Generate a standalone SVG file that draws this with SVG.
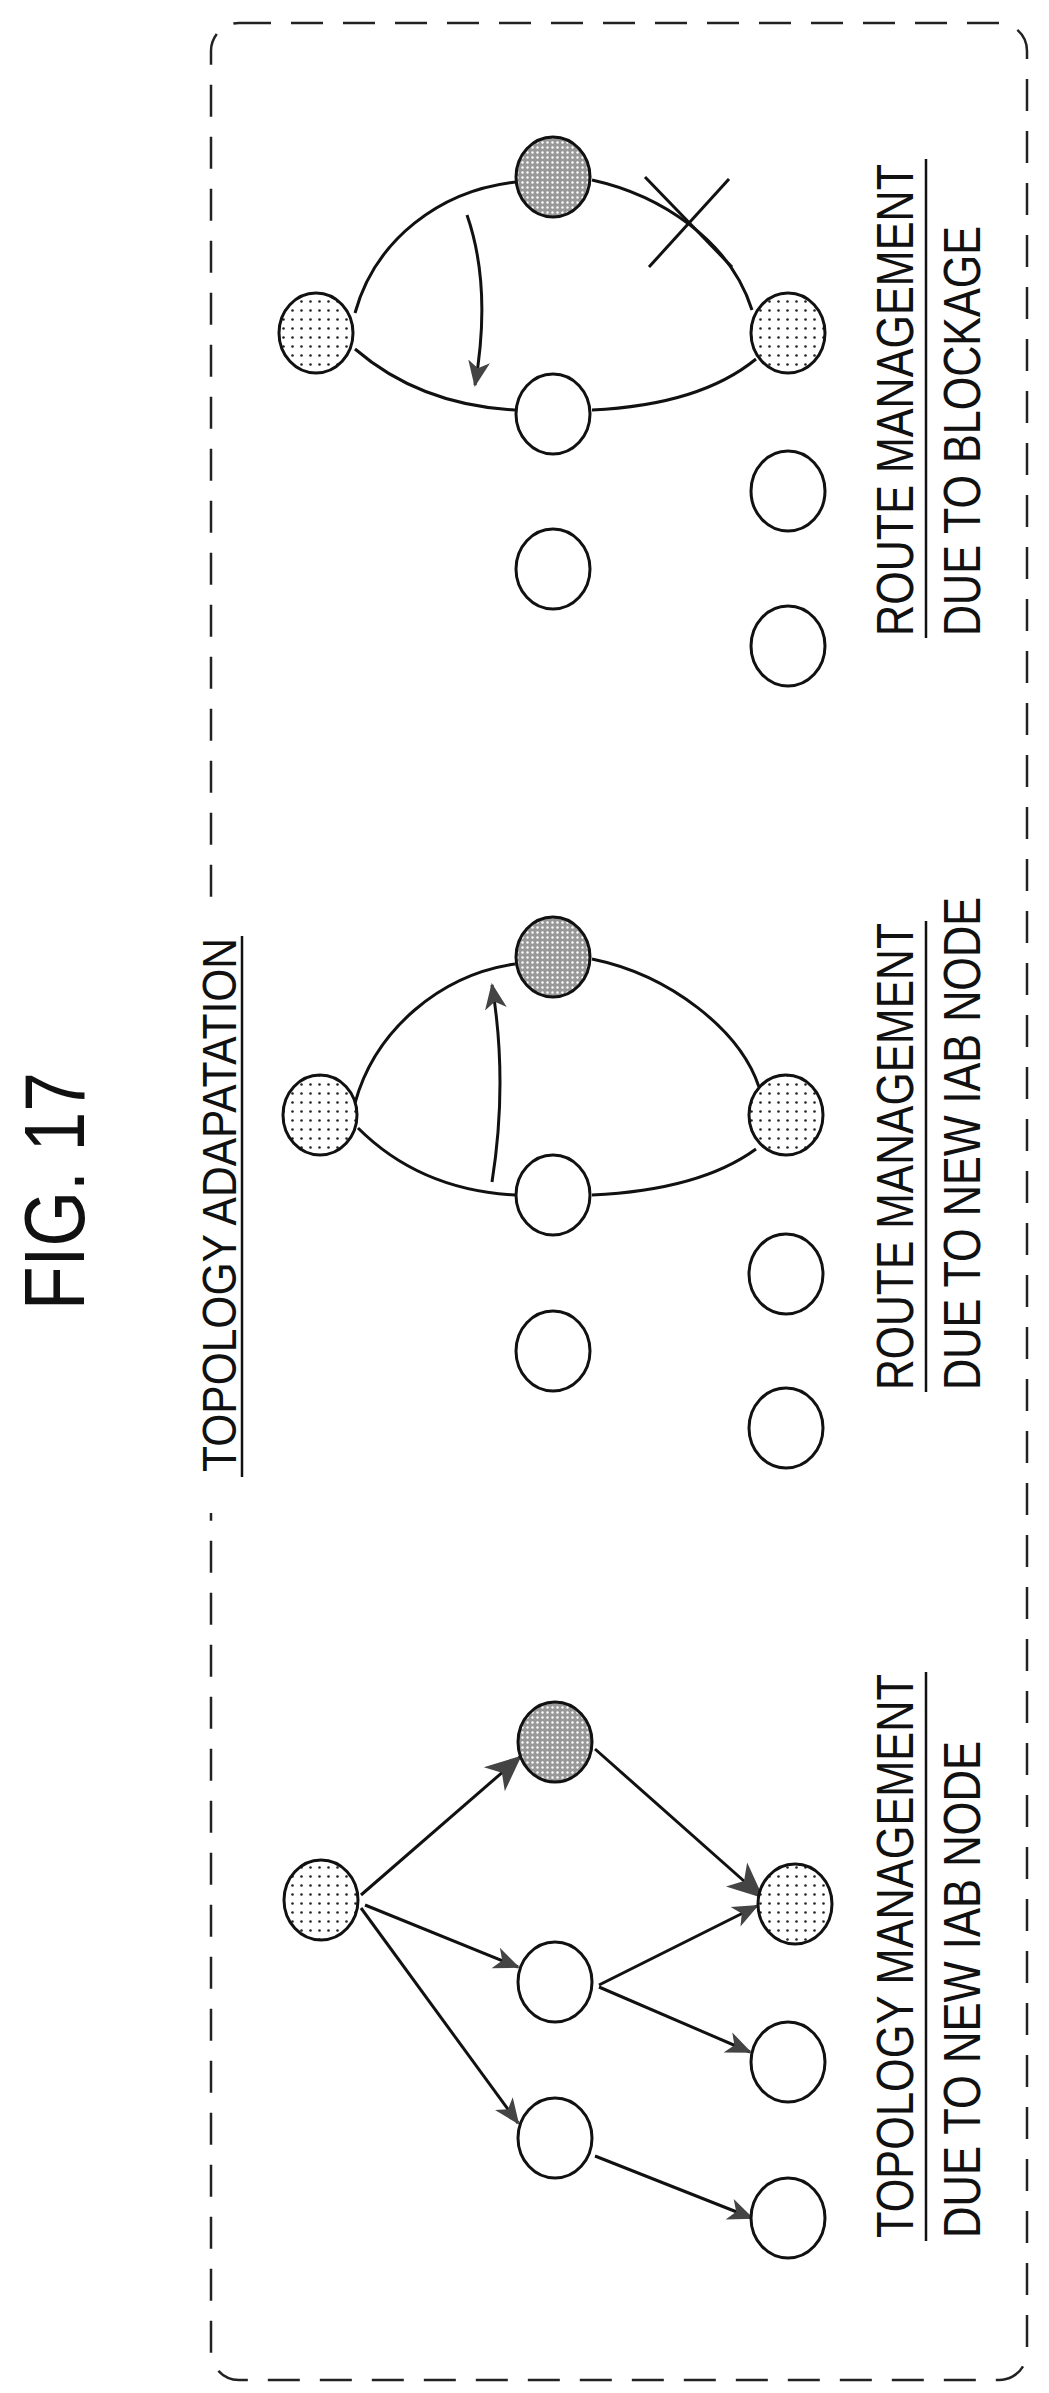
<svg xmlns="http://www.w3.org/2000/svg" width="1049" height="2393" viewBox="0 0 1049 2393">
<style>
.n{stroke:#111;stroke-width:3}
.w{fill:#fff}
.l{fill:url(#lt)}
.d{fill:url(#dk)}
.e{fill:none;stroke:#111;stroke-width:3}
.t{font-family:"Liberation Sans",Arial,sans-serif;fill:#111}
.u{stroke:#111;stroke-width:2.5}
</style>
<defs>
<pattern id="lt" width="9" height="9" patternUnits="userSpaceOnUse"><rect width="9" height="9" fill="#fff"/><circle cx="4.5" cy="4.5" r="1.3" fill="#222"/></pattern>
<pattern id="dk" width="5" height="5" patternUnits="userSpaceOnUse"><rect width="5" height="5" fill="#999"/><circle cx="2.5" cy="2.5" r="1.2" fill="#fff"/></pattern>
<marker id="ah" markerWidth="12" markerHeight="12" refX="10" refY="6" orient="auto" markerUnits="userSpaceOnUse" viewBox="0 0 12 12"><path d="M0,0 L12,6 L0,12 L4,6 Z" fill="#333"/></marker>
<marker id="ab" markerWidth="36" markerHeight="36" refX="34" refY="18" orient="auto" markerUnits="userSpaceOnUse" viewBox="0 0 36 36"><path d="M0,2 L36,18 L0,34 L10,18 Z" fill="#444"/></marker>
<marker id="am" markerWidth="26" markerHeight="26" refX="24" refY="13" orient="auto" markerUnits="userSpaceOnUse" viewBox="0 0 26 26"><path d="M0,2 L26,13 L0,24 L7,13 Z" fill="#444"/></marker>
</defs>
<rect x="211" y="23" width="816" height="2357" rx="28" fill="none" stroke="#222" stroke-width="2.5" stroke-dasharray="32 20"/>
<rect x="200" y="910" width="24" height="603" fill="#fff"/>
<text class="t" font-size="85" transform="translate(84,1310) rotate(-90)" textLength="238" lengthAdjust="spacingAndGlyphs">FIG. 17</text>
<text class="t" font-size="48" transform="translate(236,1472) rotate(-90)" textLength="534" lengthAdjust="spacingAndGlyphs">TOPOLOGY ADAPATATION</text>
<line class="u" x1="242" y1="1477" x2="242" y2="936"/>
<g id="connectors">
<!-- panel 3 -->
<path class="e" d="M355,313 C375,240 440,190 516,182"/>
<path class="e" d="M592,180 C660,195 730,240 752,310"/>
<path class="e" d="M355,349 Q420,405 515,410"/>
<path class="e" d="M592,410 Q700,405 756,359"/>
<path class="e" d="M467,215 Q492,287 475,385" stroke-width="2.5" marker-end="url(#am)"/>
<line class="e" x1="645" y1="177" x2="732" y2="267" stroke-width="5"/>
<line class="e" x1="649" y1="267" x2="729" y2="179" stroke-width="5"/>
<!-- panel 2 -->
<path class="e" d="M355,1103 C375,1030 440,975 515,964"/>
<path class="e" d="M592,959 C670,975 740,1030 759,1087"/>
<path class="e" d="M358,1128 Q420,1190 515,1195"/>
<path class="e" d="M592,1195 Q700,1190 756,1149"/>
<path class="e" d="M492,1182 Q508,1082 492,985" stroke-width="2.5" marker-end="url(#am)"/>
<!-- panel 1 -->
<line class="e" x1="361" y1="1895" x2="520" y2="1757" stroke-width="4.5" marker-end="url(#ab)"/>
<line class="e" x1="595" y1="1749" x2="762" y2="1897" stroke-width="4.5" marker-end="url(#ab)"/>
<line class="e" x1="365" y1="1905" x2="518" y2="1967" marker-end="url(#am)"/>
<line class="e" x1="361" y1="1908" x2="518" y2="2123" marker-end="url(#am)"/>
<line class="e" x1="599" y1="1985" x2="757" y2="1906" marker-end="url(#am)"/>
<line class="e" x1="599" y1="1987" x2="750" y2="2052" marker-end="url(#am)"/>
<line class="e" x1="595" y1="2156" x2="752" y2="2218" marker-end="url(#am)"/>
</g>
<!-- panel 3 nodes -->
<g id="p3n1"><ellipse class="n l" cx="316" cy="333" rx="37" ry="40"/></g>
<g id="p3n2"><ellipse class="n d" cx="553" cy="177" rx="37" ry="40"/></g>
<g id="p3n3"><ellipse class="n l" cx="788" cy="333" rx="37" ry="40"/></g>
<g id="p3n4"><ellipse class="n w" cx="553" cy="414" rx="37" ry="40"/></g>
<g id="p3n5"><ellipse class="n w" cx="788" cy="491" rx="37" ry="40"/></g>
<g id="p3n6"><ellipse class="n w" cx="553" cy="569" rx="37" ry="40"/></g>
<g id="p3n7"><ellipse class="n w" cx="788" cy="646" rx="37" ry="40"/></g>
<!-- panel 2 nodes -->
<g id="p2n1"><ellipse class="n l" cx="320" cy="1115" rx="37" ry="40"/></g>
<g id="p2n2"><ellipse class="n d" cx="553" cy="957" rx="37" ry="40"/></g>
<g id="p2n3"><ellipse class="n l" cx="786" cy="1115" rx="37" ry="40"/></g>
<g id="p2n4"><ellipse class="n w" cx="553" cy="1195" rx="37" ry="40"/></g>
<g id="p2n5"><ellipse class="n w" cx="786" cy="1274" rx="37" ry="40"/></g>
<g id="p2n6"><ellipse class="n w" cx="553" cy="1351" rx="37" ry="40"/></g>
<g id="p2n7"><ellipse class="n w" cx="786" cy="1428" rx="37" ry="40"/></g>
<!-- panel 1 nodes -->
<g id="p1n1"><ellipse class="n l" cx="321" cy="1900" rx="37" ry="40"/></g>
<g id="p1n2"><ellipse class="n d" cx="555" cy="1742" rx="37" ry="40"/></g>
<g id="p1n3"><ellipse class="n l" cx="795" cy="1904" rx="37" ry="40"/></g>
<g id="p1n4"><ellipse class="n w" cx="555" cy="1982" rx="37" ry="40"/></g>
<g id="p1n5"><ellipse class="n w" cx="788" cy="2062" rx="37" ry="40"/></g>
<g id="p1n6"><ellipse class="n w" cx="555" cy="2138" rx="37" ry="40"/></g>
<g id="p1n7"><ellipse class="n w" cx="788" cy="2218" rx="37" ry="40"/></g>
<!-- labels -->
<text class="t" font-size="52" transform="translate(913,636) rotate(-90)" textLength="472" lengthAdjust="spacingAndGlyphs">ROUTE MANAGEMENT</text>
<line class="u" x1="926" y1="638" x2="926" y2="159"/>
<text class="t" font-size="52" transform="translate(980,636) rotate(-90)" textLength="410" lengthAdjust="spacingAndGlyphs">DUE TO BLOCKAGE</text>
<text class="t" font-size="52" transform="translate(913,1390) rotate(-90)" textLength="467" lengthAdjust="spacingAndGlyphs">ROUTE MANAGEMENT</text>
<line class="u" x1="926" y1="1392" x2="926" y2="921"/>
<text class="t" font-size="52" transform="translate(980,1390) rotate(-90)" textLength="493" lengthAdjust="spacingAndGlyphs">DUE TO NEW IAB NODE</text>
<text class="t" font-size="52" transform="translate(913,2238) rotate(-90)" textLength="564" lengthAdjust="spacingAndGlyphs">TOPOLOGY MANAGEMENT</text>
<line class="u" x1="926" y1="2241" x2="926" y2="1672"/>
<text class="t" font-size="52" transform="translate(980,2238) rotate(-90)" textLength="497" lengthAdjust="spacingAndGlyphs">DUE TO NEW IAB NODE</text>
</svg>
